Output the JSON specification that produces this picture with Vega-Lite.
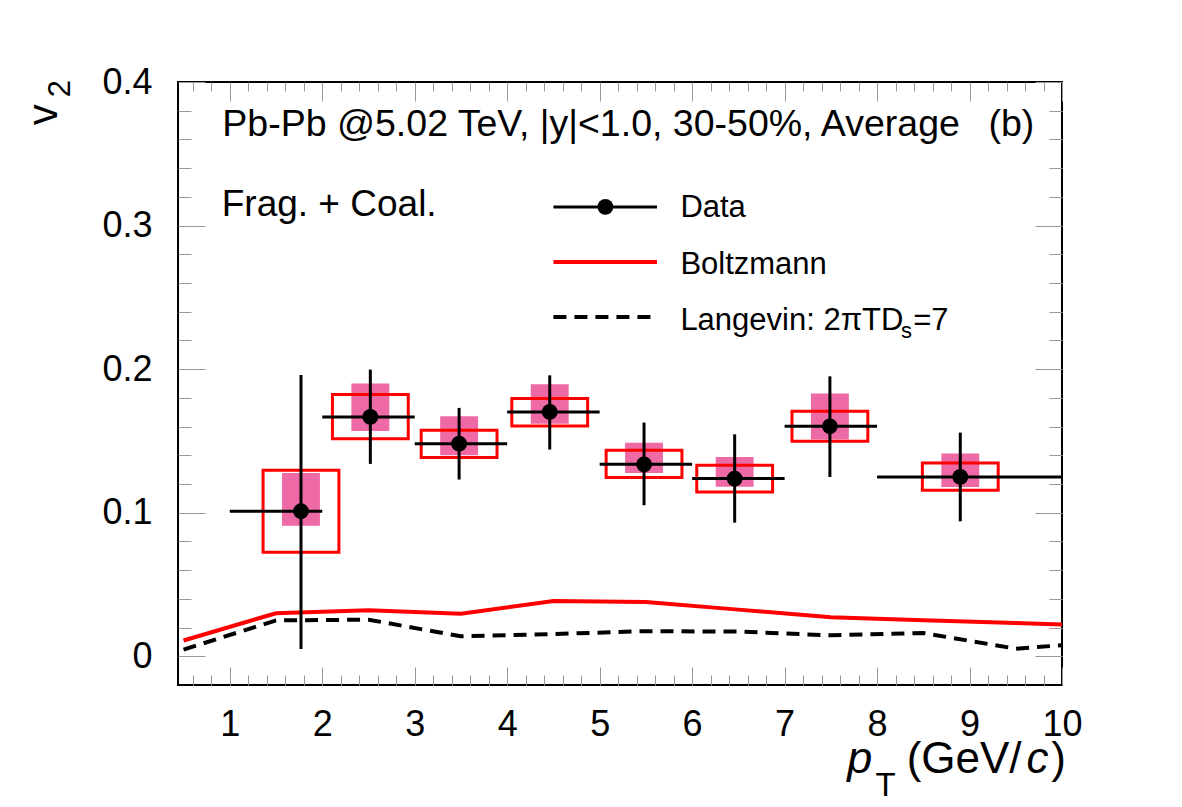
{
  "$schema": "https://vega.github.io/schema/vega-lite/v6.json",
  "autosize": {"type": "none"},
  "width": 884,
  "height": 603,
  "padding": {"left": 178, "top": 82, "right": 120, "bottom": 122},
  "background": "white",
  "config": {
    "view": {"stroke": "black", "strokeWidth": 2},
    "font": "Liberation Sans"
  },
  "resolve": {"axis": {"x": "independent", "y": "independent"}},
  "datasets": {
    "pts": [
      {"pt": 1.77, "v2": 0.101, "ptlo": 1, "pthi": 2, "statlo": 0.005, "stathi": 0.196, "sysxlo": 1.36, "sysxhi": 2.18, "syslo": 0.0725, "syshi": 0.1296, "hxlo": 1.565, "hxhi": 1.975, "hlo": 0.091, "hhi": 0.1277},
      {"pt": 2.52, "v2": 0.1667, "ptlo": 2, "pthi": 3, "statlo": 0.134, "stathi": 0.1997, "sysxlo": 2.11, "sysxhi": 2.93, "syslo": 0.1516, "syshi": 0.1823, "hxlo": 2.315, "hxhi": 2.725, "hlo": 0.157, "hhi": 0.19},
      {"pt": 3.48, "v2": 0.1481, "ptlo": 3, "pthi": 4, "statlo": 0.1231, "stathi": 0.173, "sysxlo": 3.07, "sysxhi": 3.89, "syslo": 0.1384, "syshi": 0.1574, "hxlo": 3.275, "hxhi": 3.685, "hlo": 0.14, "hhi": 0.1672},
      {"pt": 4.46, "v2": 0.1702, "ptlo": 4, "pthi": 5, "statlo": 0.144, "stathi": 0.1957, "sysxlo": 4.05, "sysxhi": 4.87, "syslo": 0.1604, "syshi": 0.1795, "hxlo": 4.255, "hxhi": 4.665, "hlo": 0.162, "hhi": 0.1895},
      {"pt": 5.48, "v2": 0.1337, "ptlo": 5, "pthi": 6, "statlo": 0.1052, "stathi": 0.1628, "sysxlo": 5.07, "sysxhi": 5.89, "syslo": 0.1245, "syshi": 0.1435, "hxlo": 5.275, "hxhi": 5.685, "hlo": 0.1277, "hhi": 0.1488},
      {"pt": 6.46, "v2": 0.1238, "ptlo": 6, "pthi": 7, "statlo": 0.0931, "stathi": 0.1546, "sysxlo": 6.05, "sysxhi": 6.87, "syslo": 0.1144, "syshi": 0.133, "hxlo": 6.255, "hxhi": 6.665, "hlo": 0.118, "hhi": 0.1388},
      {"pt": 7.49, "v2": 0.1602, "ptlo": 7, "pthi": 8, "statlo": 0.1249, "stathi": 0.195, "sysxlo": 7.08, "sysxhi": 7.9, "syslo": 0.1498, "syshi": 0.1706, "hxlo": 7.285, "hxhi": 7.695, "hlo": 0.151, "hhi": 0.183},
      {"pt": 8.9, "v2": 0.1249, "ptlo": 8, "pthi": 10, "statlo": 0.094, "stathi": 0.1558, "sysxlo": 8.49, "sysxhi": 9.31, "syslo": 0.1156, "syshi": 0.1346, "hxlo": 8.695, "hxhi": 9.105, "hlo": 0.1179, "hhi": 0.1412}
    ],
    "boltz": [
      {"pt": 0.5, "v2": 0.011}, {"pt": 1.5, "v2": 0.030}, {"pt": 2.5, "v2": 0.032}, {"pt": 3.5, "v2": 0.0297},
      {"pt": 4.5, "v2": 0.0385}, {"pt": 5.5, "v2": 0.0378}, {"pt": 6.5, "v2": 0.0325}, {"pt": 7.5, "v2": 0.0272},
      {"pt": 8.5, "v2": 0.0251}, {"pt": 9.5, "v2": 0.0232}, {"pt": 10, "v2": 0.0221}
    ],
    "lang": [
      {"pt": 0.5, "v2": 0.0047}, {"pt": 1.5, "v2": 0.025}, {"pt": 2.5, "v2": 0.0255}, {"pt": 3.5, "v2": 0.0139},
      {"pt": 4.5, "v2": 0.0155}, {"pt": 5.5, "v2": 0.0175}, {"pt": 6.5, "v2": 0.0172}, {"pt": 7.5, "v2": 0.0146},
      {"pt": 8.5, "v2": 0.0162}, {"pt": 9.5, "v2": 0.0053}, {"pt": 10, "v2": 0.0077}
    ]
  },
  "layer": [
    {
      "data": {"name": "pts"},
      "mark": {"type": "rect", "fill": "#ee6aa6"},
      "encoding": {
        "x": {"field": "hxlo", "type": "quantitative", "scale": {"domain": [0.44, 10], "nice": false, "zero": false},
          "axis": {"orient": "bottom", "values": [1, 2, 3, 4, 5, 6, 7, 8, 9, 10], "ticks": false, "domain": false, "grid": false, "title": null,
            "labelFontSize": 36, "labelColor": "black", "labelPadding": 22, "format": "d", "labelFlush": false, "labelOverlap": false, "labelFont": "Liberation Sans"}},
        "x2": {"field": "hxhi"},
        "y": {"field": "hlo", "type": "quantitative", "scale": {"domain": [-0.02, 0.4], "nice": false, "zero": false},
          "axis": {"orient": "left", "values": [0, 0.1, 0.2, 0.3, 0.4], "ticks": false, "domain": false, "grid": false, "title": null,
            "labelFontSize": 36, "labelColor": "black", "labelPadding": 26, "format": ".1~f", "labelFlush": false, "labelOverlap": false, "labelFont": "Liberation Sans"}},
        "y2": {"field": "hhi"}
      }
    },
    {
      "data": {"name": "pts"},
      "mark": {"type": "rect", "fillOpacity": 0, "stroke": "#ff0000", "strokeWidth": 3},
      "encoding": {
        "x": {"field": "sysxlo", "type": "quantitative",
          "axis": {"orient": "bottom", "values": [0.6, 0.8, 1, 1.2, 1.4, 1.6, 1.8, 2, 2.2, 2.4, 2.6, 2.8, 3, 3.2, 3.4, 3.6, 3.8, 4, 4.2, 4.4, 4.6, 4.8, 5, 5.2, 5.4, 5.6, 5.8, 6, 6.2, 6.4, 6.6, 6.8, 7, 7.2, 7.4, 7.6, 7.8, 8, 8.2, 8.4, 8.6, 8.8, 9, 9.2, 9.4, 9.6, 9.8, 10],
            "labels": false, "domain": false, "grid": false, "title": null, "tickColor": "#999999", "tickWidth": 1,
            "tickSize": {"condition": {"test": "datum.value == round(datum.value)", "value": -18}, "value": -10}}},
        "x2": {"field": "sysxhi"},
        "y": {"field": "syslo", "type": "quantitative",
          "axis": {"orient": "left", "values": [0, 0.02, 0.04, 0.06, 0.08, 0.1, 0.12, 0.14, 0.16, 0.18, 0.2, 0.22, 0.24, 0.26, 0.28, 0.3, 0.32, 0.34, 0.36, 0.38, 0.4],
            "labels": false, "domain": false, "grid": false, "title": null, "tickColor": "#999999", "tickWidth": 1,
            "tickSize": {"condition": {"test": "abs(datum.value*10 - round(datum.value*10)) < 0.000001", "value": -27}, "value": -13}}},
        "y2": {"field": "syshi"}
      }
    },
    {
      "data": {"name": "boltz"},
      "mark": {"type": "line", "color": "#ff0000", "strokeWidth": 4},
      "encoding": {
        "x": {"field": "pt", "type": "quantitative",
          "axis": {"orient": "top", "values": [0.6, 0.8, 1, 1.2, 1.4, 1.6, 1.8, 2, 2.2, 2.4, 2.6, 2.8, 3, 3.2, 3.4, 3.6, 3.8, 4, 4.2, 4.4, 4.6, 4.8, 5, 5.2, 5.4, 5.6, 5.8, 6, 6.2, 6.4, 6.6, 6.8, 7, 7.2, 7.4, 7.6, 7.8, 8, 8.2, 8.4, 8.6, 8.8, 9, 9.2, 9.4, 9.6, 9.8, 10],
            "labels": false, "domain": false, "grid": false, "title": null, "tickColor": "#999999", "tickWidth": 1,
            "tickSize": {"condition": {"test": "datum.value == round(datum.value)", "value": -19}, "value": -9}}},
        "y": {"field": "v2", "type": "quantitative",
          "axis": {"orient": "right", "values": [0, 0.02, 0.04, 0.06, 0.08, 0.1, 0.12, 0.14, 0.16, 0.18, 0.2, 0.22, 0.24, 0.26, 0.28, 0.3, 0.32, 0.34, 0.36, 0.38, 0.4],
            "labels": false, "domain": false, "grid": false, "title": null, "tickColor": "#999999", "tickWidth": 1,
            "tickSize": {"condition": {"test": "abs(datum.value*10 - round(datum.value*10)) < 0.000001", "value": -27}, "value": -13}}}
      }
    },
    {
      "data": {"name": "lang"},
      "mark": {"type": "line", "color": "black", "strokeWidth": 4, "strokeDash": [13, 8]},
      "encoding": {
        "x": {"field": "pt", "type": "quantitative", "axis": null},
        "y": {"field": "v2", "type": "quantitative", "axis": null}
      }
    },
    {
      "data": {"name": "pts"},
      "mark": {"type": "rule", "color": "black", "strokeWidth": 3},
      "encoding": {
        "x": {"field": "ptlo", "type": "quantitative", "axis": null},
        "x2": {"field": "pthi"},
        "y": {"field": "v2", "type": "quantitative", "axis": null}
      }
    },
    {
      "data": {"name": "pts"},
      "mark": {"type": "rule", "color": "black", "strokeWidth": 3},
      "encoding": {
        "x": {"field": "pt", "type": "quantitative", "axis": null},
        "y": {"field": "statlo", "type": "quantitative", "axis": null},
        "y2": {"field": "stathi"}
      }
    },
    {
      "data": {"name": "pts"},
      "mark": {"type": "circle", "color": "black", "opacity": 1, "size": 250},
      "encoding": {
        "x": {"field": "pt", "type": "quantitative", "axis": null},
        "y": {"field": "v2", "type": "quantitative", "axis": null}
      }
    },
    {
      "data": {"values": [{}]},
      "mark": {"type": "rule", "color": "black", "strokeWidth": 3},
      "encoding": {
        "x": {"datum": 4.5, "type": "quantitative", "axis": null},
        "x2": {"datum": 5.62},
        "y": {"datum": 0.313, "type": "quantitative", "axis": null}
      }
    },
    {
      "data": {"values": [{}]},
      "mark": {"type": "circle", "color": "black", "opacity": 1, "size": 250},
      "encoding": {
        "x": {"datum": 5.062, "type": "quantitative", "axis": null},
        "y": {"datum": 0.313, "type": "quantitative", "axis": null}
      }
    },
    {
      "data": {"values": [{}]},
      "mark": {"type": "rule", "color": "#ff0000", "strokeWidth": 4},
      "encoding": {
        "x": {"datum": 4.5, "type": "quantitative", "axis": null},
        "x2": {"datum": 5.62},
        "y": {"datum": 0.2746, "type": "quantitative", "axis": null}
      }
    },
    {
      "data": {"values": [{}]},
      "mark": {"type": "rule", "color": "black", "strokeWidth": 4, "strokeDash": [13, 8]},
      "encoding": {
        "x": {"datum": 4.5, "type": "quantitative", "axis": null},
        "x2": {"datum": 5.56},
        "y": {"datum": 0.2363, "type": "quantitative", "axis": null}
      }
    },
    {
      "data": {"values": [{}]},
      "mark": {"type": "text", "fontSize": 37.5, "align": "left", "baseline": "alphabetic", "color": "black", "font": "Liberation Sans"},
      "encoding": {
        "x": {"datum": 0.919, "type": "quantitative", "axis": null},
        "y": {"datum": 0.3622, "type": "quantitative", "axis": null},
        "text": {"value": "Pb-Pb @5.02 TeV, |y|<1.0, 30-50%, Average"}
      }
    },
    {
      "data": {"values": [{}]},
      "mark": {"type": "text", "fontSize": 37.5, "align": "right", "baseline": "alphabetic", "color": "black", "font": "Liberation Sans"},
      "encoding": {
        "x": {"datum": 9.70, "type": "quantitative", "axis": null},
        "y": {"datum": 0.3622, "type": "quantitative", "axis": null},
        "text": {"value": "(b)"}
      }
    },
    {
      "data": {"values": [{}]},
      "mark": {"type": "text", "fontSize": 37, "align": "left", "baseline": "alphabetic", "color": "black", "font": "Liberation Sans"},
      "encoding": {
        "x": {"datum": 0.913, "type": "quantitative", "axis": null},
        "y": {"datum": 0.3065, "type": "quantitative", "axis": null},
        "text": {"value": "Frag. + Coal."}
      }
    },
    {
      "data": {"values": [{}]},
      "mark": {"type": "text", "fontSize": 31, "align": "left", "baseline": "alphabetic", "color": "black", "font": "Liberation Sans"},
      "encoding": {
        "x": {"datum": 5.873, "type": "quantitative", "axis": null},
        "y": {"datum": 0.306, "type": "quantitative", "axis": null},
        "text": {"value": "Data"}
      }
    },
    {
      "data": {"values": [{}]},
      "mark": {"type": "text", "fontSize": 31, "align": "left", "baseline": "alphabetic", "color": "black", "font": "Liberation Sans"},
      "encoding": {
        "x": {"datum": 5.873, "type": "quantitative", "axis": null},
        "y": {"datum": 0.2666, "type": "quantitative", "axis": null},
        "text": {"value": "Boltzmann"}
      }
    },
    {
      "data": {"values": [{}]},
      "mark": {"type": "text", "fontSize": 31, "align": "left", "baseline": "alphabetic", "color": "black", "font": "Liberation Sans"},
      "encoding": {
        "x": {"datum": 5.873, "type": "quantitative", "axis": null},
        "y": {"datum": 0.2271, "type": "quantitative", "axis": null},
        "text": {"value": "Langevin: 2πTD"}
      }
    },
    {
      "data": {"values": [{}]},
      "mark": {"type": "text", "fontSize": 22, "align": "left", "baseline": "alphabetic", "color": "black", "font": "Liberation Sans"},
      "encoding": {
        "x": {"datum": 8.26, "type": "quantitative", "axis": null},
        "y": {"datum": 0.2218, "type": "quantitative", "axis": null},
        "text": {"value": "s"}
      }
    },
    {
      "data": {"values": [{}]},
      "mark": {"type": "text", "fontSize": 31, "align": "left", "baseline": "alphabetic", "color": "black", "font": "Liberation Sans"},
      "encoding": {
        "x": {"datum": 8.39, "type": "quantitative", "axis": null},
        "y": {"datum": 0.2271, "type": "quantitative", "axis": null},
        "text": {"value": "=7"}
      }
    },
    {
      "data": {"values": [{}]},
      "mark": {"type": "text", "fontSize": 45, "fontStyle": "italic", "align": "left", "baseline": "alphabetic", "color": "black", "font": "Liberation Sans"},
      "encoding": {
        "x": {"datum": 7.678, "type": "quantitative", "axis": null},
        "y": {"datum": -0.0815, "type": "quantitative", "axis": null},
        "text": {"value": "p"}
      }
    },
    {
      "data": {"values": [{}]},
      "mark": {"type": "text", "fontSize": 33, "align": "left", "baseline": "alphabetic", "color": "black", "font": "Liberation Sans"},
      "encoding": {
        "x": {"datum": 7.984, "type": "quantitative", "axis": null},
        "y": {"datum": -0.0975, "type": "quantitative", "axis": null},
        "text": {"value": "T"}
      }
    },
    {
      "data": {"values": [{}]},
      "mark": {"type": "text", "fontSize": 44, "align": "left", "baseline": "alphabetic", "color": "black", "font": "Liberation Sans"},
      "encoding": {
        "x": {"datum": 8.32, "type": "quantitative", "axis": null},
        "y": {"datum": -0.0815, "type": "quantitative", "axis": null},
        "text": {"value": "(GeV/"}
      }
    },
    {
      "data": {"values": [{}]},
      "mark": {"type": "text", "fontSize": 44, "fontStyle": "italic", "align": "left", "baseline": "alphabetic", "color": "black", "font": "Liberation Sans"},
      "encoding": {
        "x": {"datum": 9.615, "type": "quantitative", "axis": null},
        "y": {"datum": -0.0815, "type": "quantitative", "axis": null},
        "text": {"value": "c"}
      }
    },
    {
      "data": {"values": [{}]},
      "mark": {"type": "text", "fontSize": 44, "align": "left", "baseline": "alphabetic", "color": "black", "font": "Liberation Sans"},
      "encoding": {
        "x": {"datum": 9.885, "type": "quantitative", "axis": null},
        "y": {"datum": -0.0815, "type": "quantitative", "axis": null},
        "text": {"value": ")"}
      }
    },
    {
      "data": {"values": [{}]},
      "mark": {"type": "text", "fontSize": 42, "angle": 270, "align": "left", "baseline": "alphabetic", "color": "black", "font": "Liberation Sans"},
      "encoding": {
        "x": {"datum": -0.869, "type": "quantitative", "axis": null},
        "y": {"datum": 0.3699, "type": "quantitative", "axis": null},
        "text": {"value": "v"}
      }
    },
    {
      "data": {"values": [{}]},
      "mark": {"type": "text", "fontSize": 31, "angle": 270, "align": "left", "baseline": "alphabetic", "color": "black", "font": "Liberation Sans"},
      "encoding": {
        "x": {"datum": -0.728, "type": "quantitative", "axis": null},
        "y": {"datum": 0.3894, "type": "quantitative", "axis": null},
        "text": {"value": "2"}
      }
    }
  ]
}
